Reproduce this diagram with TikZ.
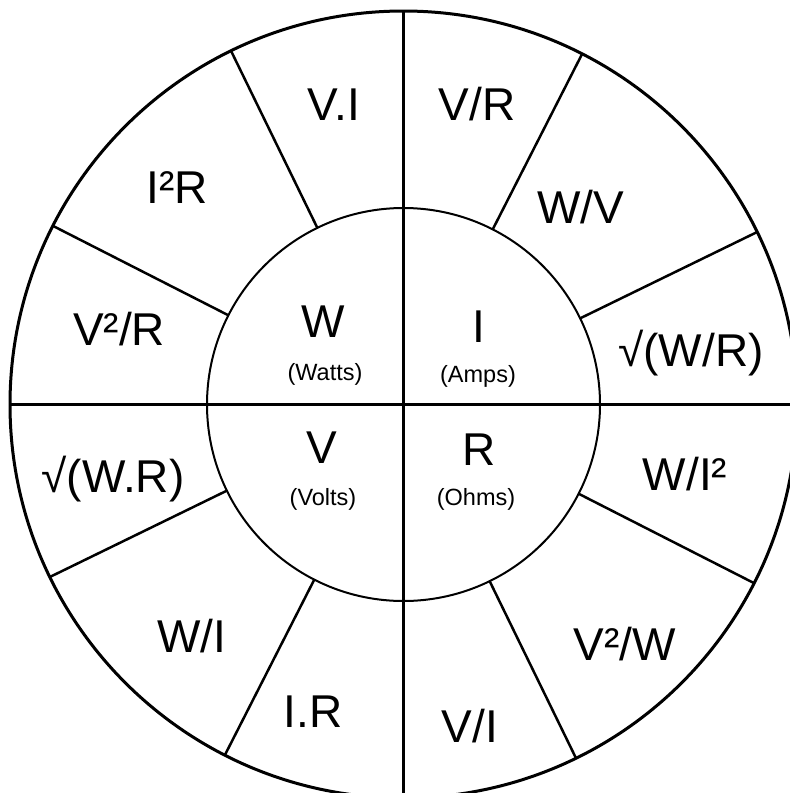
\documentclass[tikz,border=0pt]{standalone}
\usepackage{fontspec}
\setmainfont{Liberation Sans}
\begin{document}
\begin{tikzpicture}[x=1pt,y=-1pt,
  big/.style={anchor=base,inner sep=0pt,font=\fontsize{46}{50}\selectfont},
  small/.style={anchor=base,inner sep=0pt,font=\fontsize{23.5}{26}\selectfont},
  ring/.style={circle,draw=black,inner sep=0pt,outer sep=0pt},
  spoke/.style={draw=black,line width=2.5pt},
  axis/.style={draw=black,line width=3.5pt}]
\useasboundingbox (0,0) rectangle (790,793);
\fill[white] (0,0) rectangle (790,793);
\coordinate (c) at (403.5,404.5);
\node[ring,line width=3pt,minimum size=787pt] (outer) at (c) {};
\node[ring,line width=2pt,minimum size=393pt] (inner) at (c) {};
% spokes
\foreach \a in {26.565,63.435,116.565,153.435,206.565,243.435,296.565,333.435}
  \draw[spoke] (inner.\a) -- (outer.\a);
% axes
\draw[axis] (outer.north) -- (outer.south);
\draw[axis] (outer.west) -- (outer.east);
% outer labels
\node[big] (vi) at (334,120) {V.I};
\node[big] (vr) at (477,120) {V/R};
\node[big] (i2r) at (177,203) {I²R};
\node[big] (wv) at (581,223) {W/V};
\node[big] (v2r) at (119,345) {V²/R};
\node[big] (swr) at (691,366) {√(W/R)};
\node[big] (swdr) at (113,492) {√(W.R)};
\node[big] (wi2) at (685,490) {W/I²};
\node[big] (wi) at (192,652) {W/I};
\node[big] (v2w) at (625,660) {V²/W};
\node[big] (ir) at (313,727) {I.R};
\node[big] (vdi) at (470,742) {V/I};
% inner labels
\node[big] (w) at (323.5,337) {W};
\node[small] (watts) at (325,380) {(Watts)};
\node[big] (i) at (478.5,342) {I};
\node[small] (amps) at (478,382) {(Amps)};
\node[big] (v) at (322,463) {V};
\node[small] (volts) at (323,505) {(Volts)};
\node[big] (r) at (479,465) {R};
\node[small] (ohms) at (476,505) {(Ohms)};
\end{tikzpicture}
\end{document}
